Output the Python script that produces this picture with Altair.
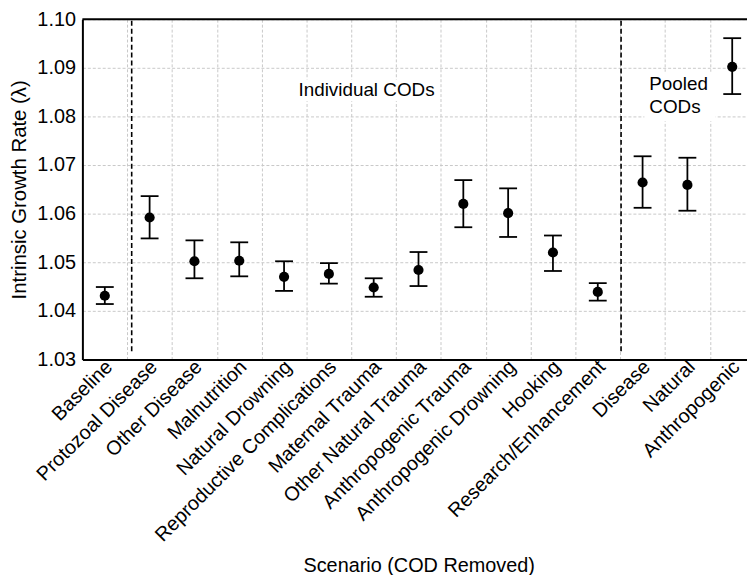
import altair as alt
import pandas as pd

# ---------------- data ----------------
scenarios = ["Baseline", "Protozoal Disease", "Other Disease", "Malnutrition",
             "Natural Drowning", "Reproductive Complications", "Maternal Trauma",
             "Other Natural Trauma", "Anthropogenic Trauma", "Anthropogenic Drowning",
             "Hooking", "Research/Enhancement", "Disease", "Natural", "Anthropogenic"]
lam = [1.0431, 1.0592, 1.0502, 1.0503, 1.0470, 1.0476, 1.0448, 1.0484,
       1.0620, 1.0601, 1.0520, 1.0439, 1.0664, 1.0659, 1.0902]
lam_hi = [1.0449, 1.0636, 1.0545, 1.0541, 1.0502, 1.0498, 1.0467, 1.0521,
          1.0669, 1.0652, 1.0555, 1.0457, 1.0718, 1.0715, 1.0961]
lam_lo = [1.0414, 1.0549, 1.0467, 1.0471, 1.0441, 1.0456, 1.0429, 1.0451,
          1.0572, 1.0552, 1.0482, 1.0421, 1.0612, 1.0606, 1.0846]
y_ticks = [1.03, 1.04, 1.05, 1.06, 1.07, 1.08, 1.09, 1.10]
divider_x = [0.6, 11.52]

ann_center_text = ["Individual CODs"]
ann_left_text = ["Pooled", "CODs"]

# ---------------- tables ----------------
n = len(scenarios)
df = pd.DataFrame({"idx": list(range(n)), "scenario": scenarios,
                   "lam": lam, "lo": lam_lo, "hi": lam_hi})
div_df = pd.DataFrame({"x": divider_x, "y": [1.0317] * len(divider_x),
                       "y2": [1.10] * len(divider_x)})
top_df = pd.DataFrame({"v": [y_ticks[-1]]})
ann_c = pd.DataFrame({"t": ann_center_text, "x": [5.84], "y": [1.0855]})
ann_l = pd.DataFrame({"t": ann_left_text, "x": [12.15, 12.15], "y": [1.0867, 1.0820]})
box_df = pd.DataFrame({"x": [4.23, 12.04], "x2": [7.46, 13.63],
                       "y": [1.0876, 1.0892], "y2": [1.0831, 1.0790]})

FONT = "Liberation Sans"
W = 670
boundaries = [i + 0.5 for i in range(n - 1)]
x_hi = 14.33   # right edge of the visible plot (the reference is cropped there)

qx = alt.Scale(domain=[-0.5, x_hi], nice=False, zero=False)
bx = alt.Scale(domain=scenarios, rangeMax=W * (n / (x_hi + 0.5)),
               paddingInner=0, paddingOuter=0)
y_scale = alt.Scale(domain=[1.03, 1.10], nice=False, zero=False)

grid_axis = alt.Axis(values=boundaries, labels=False, ticks=False, tickSize=0,
                     grid=True, gridDash=[3, 2], gridColor="#c8c8c8", gridWidth=1,
                     domainColor="black", domainWidth=2, title=None, orient="bottom")
label_axis = alt.Axis(labelAngle=-45, labelAlign="right", labelBaseline="middle",
                      labelFontSize=20, labelPadding=4, labelOffset=4,
                      labelOverlap=False, labelLimit=0, labelColor="black",
                      ticks=False, tickSize=0, grid=False, domain=False,
                      orient="bottom",
                      title="Scenario (COD Removed)", titleFontSize=20,
                      titleFontWeight="normal", titleColor="black",
                      titleX=339, titleY=208, titleAlign="center",
                      titleBaseline="middle")
y_axis = alt.Axis(values=y_ticks, format=".2f", labelFontSize=20, labelPadding=7,
                  labelColor="black", ticks=False, tickSize=0,
                  grid=True, gridDash=[3, 2], gridColor="#c8c8c8", gridWidth=1,
                  domainColor="black", domainWidth=2,
                  title="Intrinsic Growth Rate (λ)", titleFontSize=20.5,
                  titleFontWeight="normal", titleColor="black", titlePadding=7)

base = alt.Chart(df)

boxes = alt.Chart(box_df).mark_rect(color="white").encode(
    x=alt.X("x:Q", scale=qx, axis=grid_axis), x2="x2:Q",
    y=alt.Y("y:Q", scale=y_scale, axis=y_axis), y2="y2:Q")

dividers = alt.Chart(div_df).mark_rule(color="black", strokeWidth=1.6,
                                      strokeDash=[5, 3]).encode(
    x=alt.X("x:Q", scale=qx, axis=None), y="y:Q", y2="y2:Q")

top_border = alt.Chart(top_df).mark_rule(color="black", strokeWidth=2).encode(y="v:Q")

err = base.mark_rule(color="black", strokeWidth=1.8).encode(
    x=alt.X("idx:Q", scale=qx, axis=None), y="lo:Q", y2="hi:Q")
cap_lo = base.mark_tick(orient="horizontal", size=18, thickness=1.8,
                        color="black", opacity=1).encode(
    x=alt.X("idx:Q", scale=qx, axis=None), y="lo:Q")
cap_hi = base.mark_tick(orient="horizontal", size=18, thickness=1.8,
                        color="black", opacity=1).encode(
    x=alt.X("idx:Q", scale=qx, axis=None), y="hi:Q")
pts = base.mark_circle(size=105, color="black", opacity=1).encode(
    x=alt.X("scenario:N", scale=bx, axis=label_axis, sort=scenarios),
    y="lam:Q", tooltip=["scenario:N", "lam:Q"])

txt_c = alt.Chart(ann_c).mark_text(align="center", baseline="middle", fontSize=19,
                                   font=FONT, color="black").encode(
    x=alt.X("x:Q", scale=qx, axis=None), y="y:Q", text="t:N")
txt_l = alt.Chart(ann_l).mark_text(align="left", baseline="middle", fontSize=19,
                                   font=FONT, color="black").encode(
    x=alt.X("x:Q", scale=qx, axis=None), y="y:Q", text="t:N")

chart = alt.layer(boxes, dividers, err, cap_lo, cap_hi, pts, txt_c, txt_l,
                  top_border).resolve_scale(x="independent").resolve_axis(
    x="independent").properties(
    width=W, height=343,
    autosize=alt.AutoSizeParams(type="none"),
    padding={"left": 75, "top": 9, "right": 0, "bottom": 215},
).configure_view(stroke=None).configure(font=FONT)

chart.save("out.html", embed_options={"renderer": "svg", "actions": False})
